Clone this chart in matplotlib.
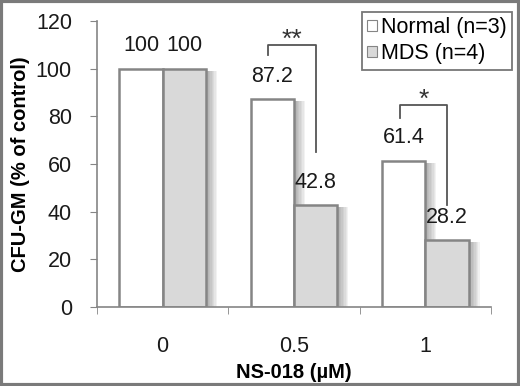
import matplotlib
matplotlib.use("Agg")
import matplotlib.pyplot as plt
import matplotlib.patheffects as pe
from matplotlib.patches import Rectangle
import numpy as np

plt.rcParams['font.family'] = ['Liberation Sans', 'DejaVu Sans']

# Daten
doses = ['0', '0.5', '1']
normal = [100, 87.2, 61.4]
mds = [100, 42.8, 28.2]
series_labels = ['Normal (n=3)', 'MDS (n=4)']

# Signifikanz: (Gruppe, Text, Höhe Bügel, linkes Ende, rechtes Ende)
sig = [(1, '**', 110, 105.7, 65), (2, '*', 84.8, 79.3, 42.8)]

FS = 15.5
fig = plt.figure(figsize=(5.2, 3.86), dpi=100)
ax = fig.add_axes([0.1865, 0.2047, 0.7575, 0.741])

x = np.arange(len(doses))
w = 0.33
edge = '#858585'

# weicher Schatten rechts neben den Balken
shadow = [pe.SimplePatchShadow(offset=(k, -1.5), shadow_rgbFace='#505050', alpha=0.07)
          for k in (1, 2, 3, 4, 5, 6, 7, 8)] + [pe.Normal()]

b1 = ax.bar(x - w / 2, normal, w, color='white', edgecolor=edge, linewidth=1.8,
            label=series_labels[0], path_effects=shadow)
b2 = ax.bar(x + w / 2, mds, w, color='#d9d9d9', edgecolor=edge, linewidth=1.8,
            label=series_labels[1], path_effects=shadow)

for rects, vals in ((b1, normal), (b2, mds)):
    for r, v in zip(rects, vals):
        ax.text(r.get_x() + r.get_width() / 2, v + 9.5, '%g' % v,
                ha='center', va='center', fontsize=FS, color='#1a1a1a')

for g, txt, top, yl, yr in sig:
    xl = g - w / 2 - 0.03
    xr = g + w / 2 + 0.0
    ax.plot([xl, xl, xr, xr], [yl, top, top, yr], color='#555555', lw=1.3)
    ax.text((xl + xr) / 2, top - 3, txt, ha='center', va='bottom',
            fontsize=19, color='#333333')

ax.set_xlim(-0.5, 2.5)
ax.set_ylim(0, 120)
ax.set_yticks(range(0, 121, 20))
ax.set_xticks(x)
ax.set_xticklabels(doses)
ax.set_xticks([-0.5, 0.5, 1.5, 2.5], minor=True)
ax.tick_params(axis='x', which='major', length=0, pad=21, labelsize=FS, labelcolor='#1a1a1a')
ax.tick_params(axis='x', which='minor', length=5, color=edge, direction='out')
ax.tick_params(axis='y', length=5, color=edge, labelsize=FS, labelcolor='#1a1a1a', pad=13)

for s in ('top', 'right'):
    ax.spines[s].set_visible(False)
for s in ('left', 'bottom'):
    ax.spines[s].set_color(edge)
    ax.spines[s].set_linewidth(1.2)

ax.set_ylabel('CFU-GM (% of control)', fontsize=FS - 1, fontweight='bold', labelpad=4)
ax.set_xlabel('NS-018 (µM)', fontsize=FS - 1, fontweight='bold', labelpad=4)

leg = fig.legend(loc='upper right', bbox_to_anchor=(0.985, 0.97), fontsize=FS,
                 frameon=True, fancybox=False, handlelength=0.45, handleheight=0.45,
                 handletextpad=0.2, borderpad=0.25, labelspacing=0.25, borderaxespad=0)
leg.get_frame().set_edgecolor('#555555')
leg.get_frame().set_linewidth(1.3)
for h in leg.legend_handles:
    h.set_path_effects([])
    h.set_linewidth(0.8)

# Rahmen um die ganze Abbildung
fig.patches.append(Rectangle((0.002, 0.003), 0.996, 0.994, transform=fig.transFigure,
                             fill=False, edgecolor='#7a7a7a', linewidth=3))

fig.savefig('out.png', dpi=100)
